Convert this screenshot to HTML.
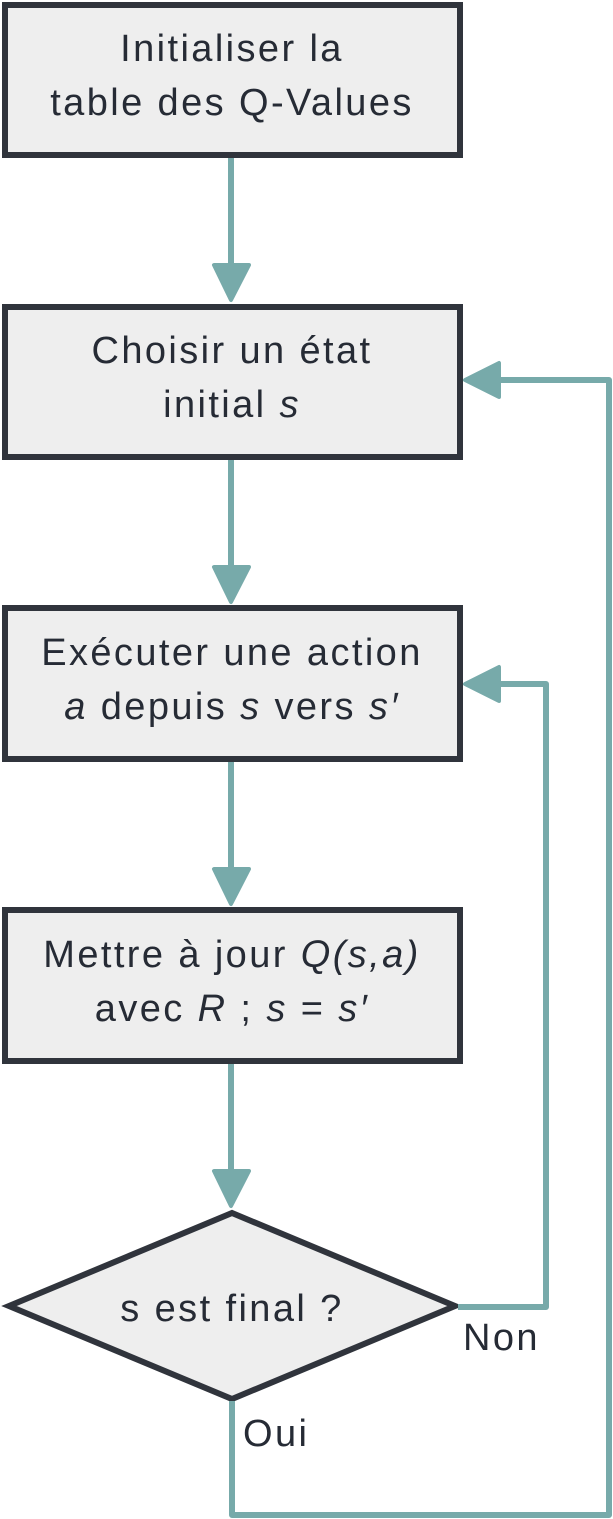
<!DOCTYPE html>
<html><head><meta charset="utf-8"><style>
html,body{margin:0;padding:0;background:#fff;}
svg{display:block}
text{font-family:"Liberation Sans","DejaVu Sans",sans-serif;font-size:38px;letter-spacing:2.4px;fill:#262b35;}
</style></head><body>
<svg width="613" height="1519" viewBox="0 0 613 1519">
<g fill="#eeeeee" stroke="#30343c" stroke-width="6">
<rect x="5" y="5" width="455" height="150"/>
<rect x="5" y="307" width="455" height="150"/>
<rect x="5" y="608" width="455" height="151"/>
<rect x="5" y="910" width="455" height="151"/>
<polygon points="9,1306 232,1213 455,1306 232,1399"/>
</g>
<g fill="none" stroke="#77aaaa" stroke-width="6" stroke-linejoin="round">
<line x1="231" y1="158" x2="231" y2="268"/>
<line x1="231" y1="460" x2="231" y2="570"/>
<line x1="231" y1="762" x2="231" y2="872"/>
<line x1="231" y1="1064" x2="231" y2="1174"/>
<polyline points="458,1307 546,1307 546,684 498,684"/>
<polyline points="232,1401 232,1515 609,1515 609,380 498,380"/>
</g>
<g fill="#77aaaa" stroke="#77aaaa" stroke-width="4" stroke-linejoin="round">
<polygon points="214,265 249,265 231,300"/>
<polygon points="214,567 249,567 231,602"/>
<polygon points="214,869 249,869 231,904"/>
<polygon points="214,1171 249,1171 231,1206"/>
<polygon points="499,363 499,397 465,380"/>
<polygon points="499,667 499,701 465,684"/>
</g>
<g text-anchor="middle">
<text x="232" y="61">Initialiser la</text>
<text x="232" y="115">table des Q-Values</text>
<text x="232" y="363">Choisir un état</text>
<text x="232" y="417">initial <tspan font-style="italic">s</tspan></text>
<text x="232" y="665">Exécuter une action</text>
<text x="232" y="719"><tspan font-style="italic">a</tspan> depuis <tspan font-style="italic">s</tspan> vers <tspan font-style="italic">s′</tspan></text>
<text x="232" y="967">Mettre à jour <tspan font-style="italic">Q(s,a)</tspan></text>
<text x="232" y="1021">avec <tspan font-style="italic">R</tspan> ; <tspan font-style="italic">s</tspan> = <tspan font-style="italic">s′</tspan></text>
<text x="232" y="1321">s est final ?</text>
</g>
<text x="463" y="1350">Non</text>
<text x="243" y="1446">Oui</text>
</svg>
</body></html>
